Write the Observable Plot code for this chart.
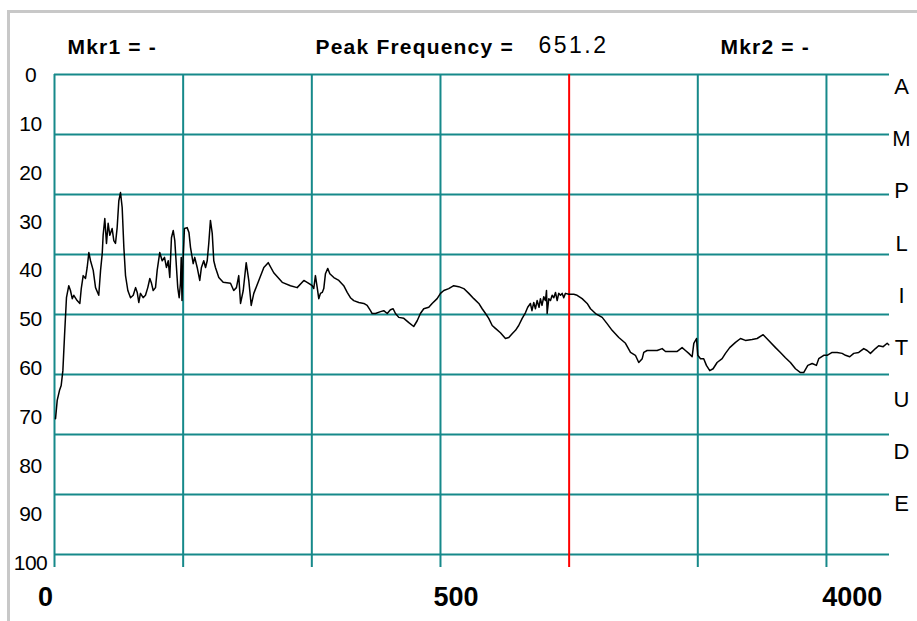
<!DOCTYPE html>
<html>
<head>
<meta charset="utf-8">
<script src="https://cdn.jsdelivr.net/npm/d3@7"></script>
<script src="https://cdn.jsdelivr.net/npm/@observablehq/plot@0.6"></script>
<style>
  html, body { margin: 0; padding: 0; background: #fff; }
  #wrap { position: relative; width: 917px; height: 621px; overflow: hidden; }
  #chrome { position: absolute; left: 7px; top: 10px; width: 920px; height: 620px;
            border-top: 3px solid #c8c8c8; border-left: 3px solid #c8c8c8; pointer-events: none; }
  svg { display: block; }
  .hdr text { letter-spacing: 1.2px; }
  .pkv text { letter-spacing: 2.5px; }
  .ytk text { letter-spacing: -0.5px; }
</style>
</head>
<body>
<div id="wrap"><div id="chart"></div><div id="chrome"></div></div>
<script>
// Spectrum trace: x in grid divisions (0..6.49), y = amplitude (0 top .. 100 bottom)
const specX = [0.008,0.021,0.039,0.052,0.065,0.078,0.093,0.111,0.124,0.138,
0.150,0.176,0.197,0.208,0.223,0.241,0.254,0.267,0.280,0.301,
0.319,0.344,0.358,0.371,0.378,0.391,0.404,0.417,0.430,0.448,
0.461,0.474,0.487,0.500,0.513,0.526,0.539,0.552,0.570,0.591,
0.612,0.630,0.643,0.655,0.668,0.689,0.707,0.725,0.741,0.754,
0.767,0.785,0.798,0.818,0.837,0.855,0.870,0.884,0.896,0.909,
0.923,0.935,0.948,0.958,0.969,0.979,0.985,0.991,0.999,1.010,
1.031,1.045,1.057,1.078,1.090,1.109,1.129,1.142,1.160,1.174,
1.187,1.199,1.212,1.226,1.238,1.251,1.277,1.311,1.368,1.393,
1.414,1.432,1.446,1.467,1.490,1.510,1.529,1.549,1.588,1.627,
1.661,1.704,1.770,1.834,1.886,1.938,1.976,2.003,2.015,2.028,
2.042,2.054,2.067,2.081,2.093,2.106,2.124,2.140,2.171,2.210,
2.248,2.275,2.300,2.326,2.365,2.404,2.430,2.456,2.469,2.495,
2.534,2.559,2.586,2.611,2.632,2.650,2.676,2.715,2.754,2.792,
2.819,2.844,2.870,2.909,2.935,2.974,3.000,3.026,3.064,3.103,
3.142,3.181,3.220,3.259,3.298,3.324,3.350,3.375,3.402,3.427,
3.466,3.505,3.531,3.557,3.583,3.608,3.635,3.661,3.678,3.699,
3.711,3.725,3.738,3.751,3.766,3.777,3.789,3.803,3.816,3.824,
3.829,3.842,3.855,3.868,3.881,3.894,3.907,3.919,3.933,3.946,
3.958,3.971,3.997,4.036,4.062,4.101,4.140,4.166,4.205,4.257,
4.295,4.334,4.386,4.438,4.477,4.515,4.541,4.568,4.580,4.606,
4.684,4.723,4.749,4.787,4.840,4.878,4.904,4.930,4.956,4.969,
4.990,5.000,5.021,5.046,5.067,5.093,5.119,5.150,5.189,5.215,
5.248,5.293,5.332,5.370,5.422,5.461,5.508,5.551,5.604,5.642,
5.681,5.720,5.759,5.798,5.823,5.855,5.889,5.922,5.940,5.979,
6.005,6.044,6.083,6.122,6.148,6.181,6.212,6.251,6.290,6.316,
6.342,6.381,6.406,6.441,6.472,6.484];

const specY = [71.7,67.9,65.8,64.8,61.7,54.4,46.5,44.0,45.0,46.7,
46.0,47.1,47.7,44.6,41.9,42.5,40.2,37.1,38.8,40.8,
44.4,46.0,40.8,37.3,33.5,30.0,35.2,31.0,33.5,32.1,
34.6,35.2,31.9,26.3,24.6,27.7,36.0,41.9,45.0,46.5,
46.0,44.4,45.4,47.5,45.6,46.5,46.0,44.4,42.5,43.5,
45.0,44.4,40.8,37.1,38.8,38.1,40.2,38.8,42.3,34.0,
32.5,34.6,40.2,44.4,46.5,43.5,38.1,47.1,38.8,32.1,
31.9,32.9,36.0,39.4,38.1,40.2,42.9,40.2,38.8,40.2,
38.8,35.2,30.4,33.1,38.8,40.2,42.3,43.3,43.5,45.0,
44.4,41.9,47.7,45.0,39.2,42.9,48.1,45.6,42.9,40.2,
39.2,41.3,43.3,44.0,44.4,42.9,43.5,44.0,44.6,41.9,
44.4,46.7,45.6,45.4,44.6,41.5,40.4,41.5,42.3,42.9,
44.0,45.4,46.5,47.1,47.5,47.7,48.1,49.2,49.8,49.8,
49.4,49.2,49.8,49.0,48.8,49.8,50.6,50.8,51.7,52.5,
51.3,49.8,48.8,48.5,47.7,46.7,45.6,45.0,44.6,44.0,
44.2,44.6,45.6,46.7,47.7,48.8,49.8,50.8,52.3,52.9,
53.8,55.0,54.8,54.0,53.3,52.3,50.8,49.6,48.5,47.7,
49.2,47.5,48.8,47.1,48.5,46.7,48.1,46.3,47.1,45.0,
49.8,46.7,47.1,46.0,46.5,45.4,47.1,45.6,46.0,45.6,
46.5,45.6,45.8,45.8,46.0,46.7,47.7,48.8,49.8,50.6,
51.9,53.3,54.8,56.0,57.9,58.5,60.0,59.2,57.9,57.5,
57.5,57.1,57.7,57.7,57.7,56.9,57.5,58.1,58.8,56.0,
55.0,58.5,59.2,59.2,60.6,61.7,61.3,60.0,59.2,58.1,
56.9,55.8,55.0,55.4,55.2,55.0,54.2,55.4,56.9,57.9,
59.0,60.0,61.3,62.1,62.1,60.6,60.2,60.6,59.2,58.5,
58.5,57.9,57.9,58.1,58.5,58.8,58.1,57.9,57.1,57.5,
58.1,57.1,56.5,56.7,56.0,56.3];

const yTickValues = [0,10,20,30,40,50,60,70,80,90,100];
const hGridValues = [0,12.5,25,37.5,50,62.5,75,87.5,100];
const vGridValues = [0,1,2,3,5,6];
const peakDivision = 4;
const xTickPos = [-0.07, 3.12, 6.2];
const xTickLabels = ["0","500","4000"];
const sideLetters = ["A","M","P","L","I","T","U","D","E"];
const mkr1Text = "Mkr1 = -";
const peakLabel = "Peak Frequency =";
const peakValue = "651.2";
const mkr2Text = "Mkr2 = -";

const trace = specX.map((x, i) => ({x, y: specY[i]}));

const GRID = "#16898a";
const SANS = "'Liberation Sans', Arial, sans-serif";

const chart = Plot.plot({
  width: 917,
  height: 621,
  marginLeft: 54,
  marginRight: 28,
  marginTop: 74,
  marginBottom: 67,
  x: {domain: [0, 6.49], axis: null},
  y: {domain: [0, 100], reverse: true, axis: null},
  style: {background: "white", overflow: "visible"},
  marks: [
    Plot.ruleY(hGridValues, {y: d => d, stroke: GRID, strokeWidth: 2}),
    Plot.ruleX(vGridValues, {x: d => d, y1: 0, y2: 102.7, stroke: GRID, strokeWidth: 2}),
    Plot.ruleX([peakDivision], {x: d => d, y1: 0, y2: 102.7, stroke: "#ff0000", strokeWidth: 2}),
    Plot.line(trace, {x: "x", y: "y", stroke: "#000", strokeWidth: 1.5}),
    Plot.text(yTickValues, {x: 0, y: d => d * 1.0167 + 0.2, dx: -24, text: d => String(d),
      textAnchor: "middle", fontSize: 21, fontFamily: SANS, fill: "#000", className: "ytk"}),
    Plot.text(xTickLabels, {x: (d, i) => xTickPos[i], y: 100, dy: 43, text: d => d,
      textAnchor: "middle", fontSize: 27, fontWeight: "bold", fontFamily: SANS, fill: "#000"}),
    Plot.text(sideLetters, {x: 6.49, y: (d, i) => 2.6 + i * 10.87, dx: 12, text: d => d,
      textAnchor: "middle", fontSize: 22, fontFamily: SANS, fill: "#000"}),
    Plot.text([mkr1Text], {frameAnchor: "top-left", dx: 13, dy: -27, text: d => d,
      textAnchor: "start", lineAnchor: "middle", fontSize: 21, fontWeight: "bold", fontFamily: SANS, fill: "#000",
      className: "hdr"}),
    Plot.text([peakLabel], {frameAnchor: "top-left", dx: 261, dy: -27, text: d => d,
      textAnchor: "start", lineAnchor: "middle", fontSize: 21, fontWeight: "bold", fontFamily: SANS, fill: "#000",
      className: "hdr"}),
    Plot.text([peakValue], {frameAnchor: "top-left", dx: 484, dy: -29, text: d => d,
      textAnchor: "start", lineAnchor: "middle", fontSize: 23, fontFamily: SANS, fill: "#000",
      className: "pkv"}),
    Plot.text([mkr2Text], {frameAnchor: "top-left", dx: 666, dy: -27, text: d => d,
      textAnchor: "start", lineAnchor: "middle", fontSize: 21, fontWeight: "bold", fontFamily: SANS, fill: "#000",
      className: "hdr"})
  ]
});
document.getElementById("chart").appendChild(chart);
</script>
</body>
</html>
